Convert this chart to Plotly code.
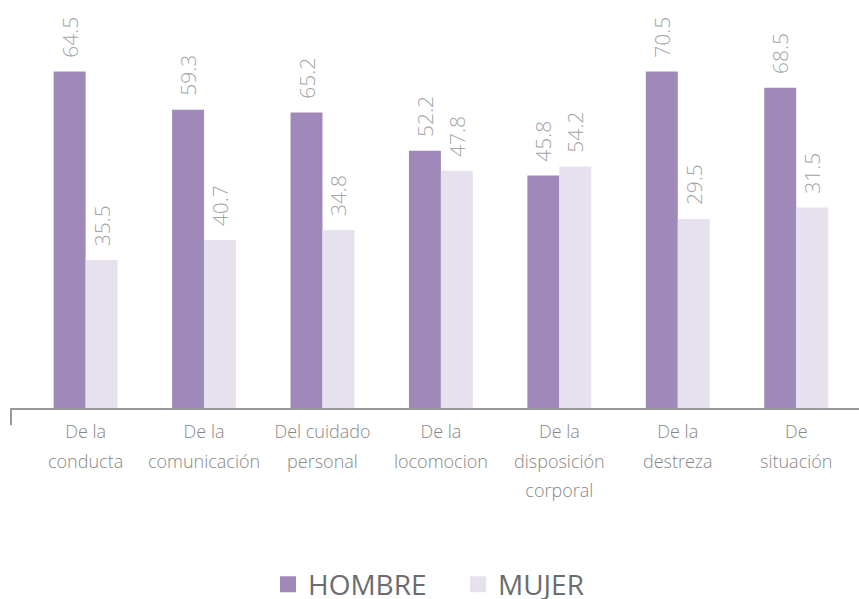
import plotly.graph_objects as go

# ---- data ----
categorias = [
    "De la<br>conducta",
    "De la<br>comunicación",
    "Del cuidado<br>personal",
    "De la<br>locomocion",
    "De la<br>disposición<br>corporal",
    "De la<br>destreza",
    "De<br>situación",
]
# percentages printed above the bars
hombre_pct = [64.5, 59.3, 65.2, 52.2, 45.8, 70.5, 68.5]
mujer_pct = [35.5, 40.7, 34.8, 47.8, 54.2, 29.5, 31.5]
# bar lengths as drawn in the picture (they are not proportional to the printed labels)
hombre_barra = [70.5, 62.5, 61.9, 53.9, 48.7, 70.5, 67.1]
mujer_barra = [31.0, 35.2, 37.3, 49.7, 50.6, 39.6, 42.0]

COL_H = "#9f89b8"
COL_M = "#e7e1ee"
LABEL_FONT = dict(family="Open Sans", size=21, color="#a3a3a8", weight=300)

def fmt(v):
    return "\u00a0\u00a0" + f"{v:.1f}"

def tick(t):
    return "<br>".join(f"<span style='font-size:18px'>{p}</span>" for p in t.split("<br>"))

x_idx = list(range(len(categorias)))

fig = go.Figure()
fig.add_bar(
    x=x_idx, y=hombre_barra, name="HOMBRE", marker=dict(color=COL_H, line=dict(width=0)),
    text=[fmt(v) for v in hombre_pct], textposition="outside", textangle=-90,
    textfont=LABEL_FONT, cliponaxis=False, constraintext="none", showlegend=False,
    hoverinfo="skip",
)
fig.add_bar(
    x=x_idx, y=mujer_barra, name="MUJER", marker=dict(color=COL_M, line=dict(width=0)),
    text=[fmt(v) for v in mujer_pct], textposition="outside", textangle=-90,
    textfont=LABEL_FONT, cliponaxis=False, constraintext="none", showlegend=False,
    hoverinfo="skip",
)
# legend entries
for nm, col in (("HOMBRE", COL_H), ("MUJER", COL_M)):
    fig.add_scatter(x=[None], y=[None], mode="markers", name=nm,
                    marker=dict(symbol="square", size=16, color=col))

fig.update_layout(
    width=859, height=599,
    margin=dict(l=11, r=0, t=0, b=191),
    paper_bgcolor="white", plot_bgcolor="white",
    barmode="group", bargap=0.46, bargroupgap=0,
    showlegend=True,
    legend=dict(
        orientation="h", xref="container", yref="container",
        x=0.312, xanchor="left", y=0.024, yanchor="middle",
        font=dict(family="Open Sans", size=28, color="#6b6d6f"),
        itemsizing="trace", entrywidth=145, entrywidthmode="pixels",
        traceorder="normal",
    ),
    xaxis=dict(
        tickmode="array", tickvals=x_idx, ticktext=[tick(c) for c in categorias],
        range=[-0.63, 6.53], showline=True, linecolor="#9a9a9a", linewidth=2,
        showgrid=False, zeroline=False, ticks="",
        tickfont=dict(family="Open Sans", size=23, color="#878787", weight=300),
    ),
    yaxis=dict(range=[0, 85.5], visible=False, showgrid=False, zeroline=False),
    shapes=[dict(type="line", xref="paper", yref="paper", x0=0, x1=0, y0=0, y1=-0.042,
                 line=dict(color="#9a9a9a", width=2))],
)

fig.write_html(
    "out.html",
    config={"displayModeBar": False},
    post_script="document.body.style.margin='0';document.body.style.overflow='hidden';",
)
